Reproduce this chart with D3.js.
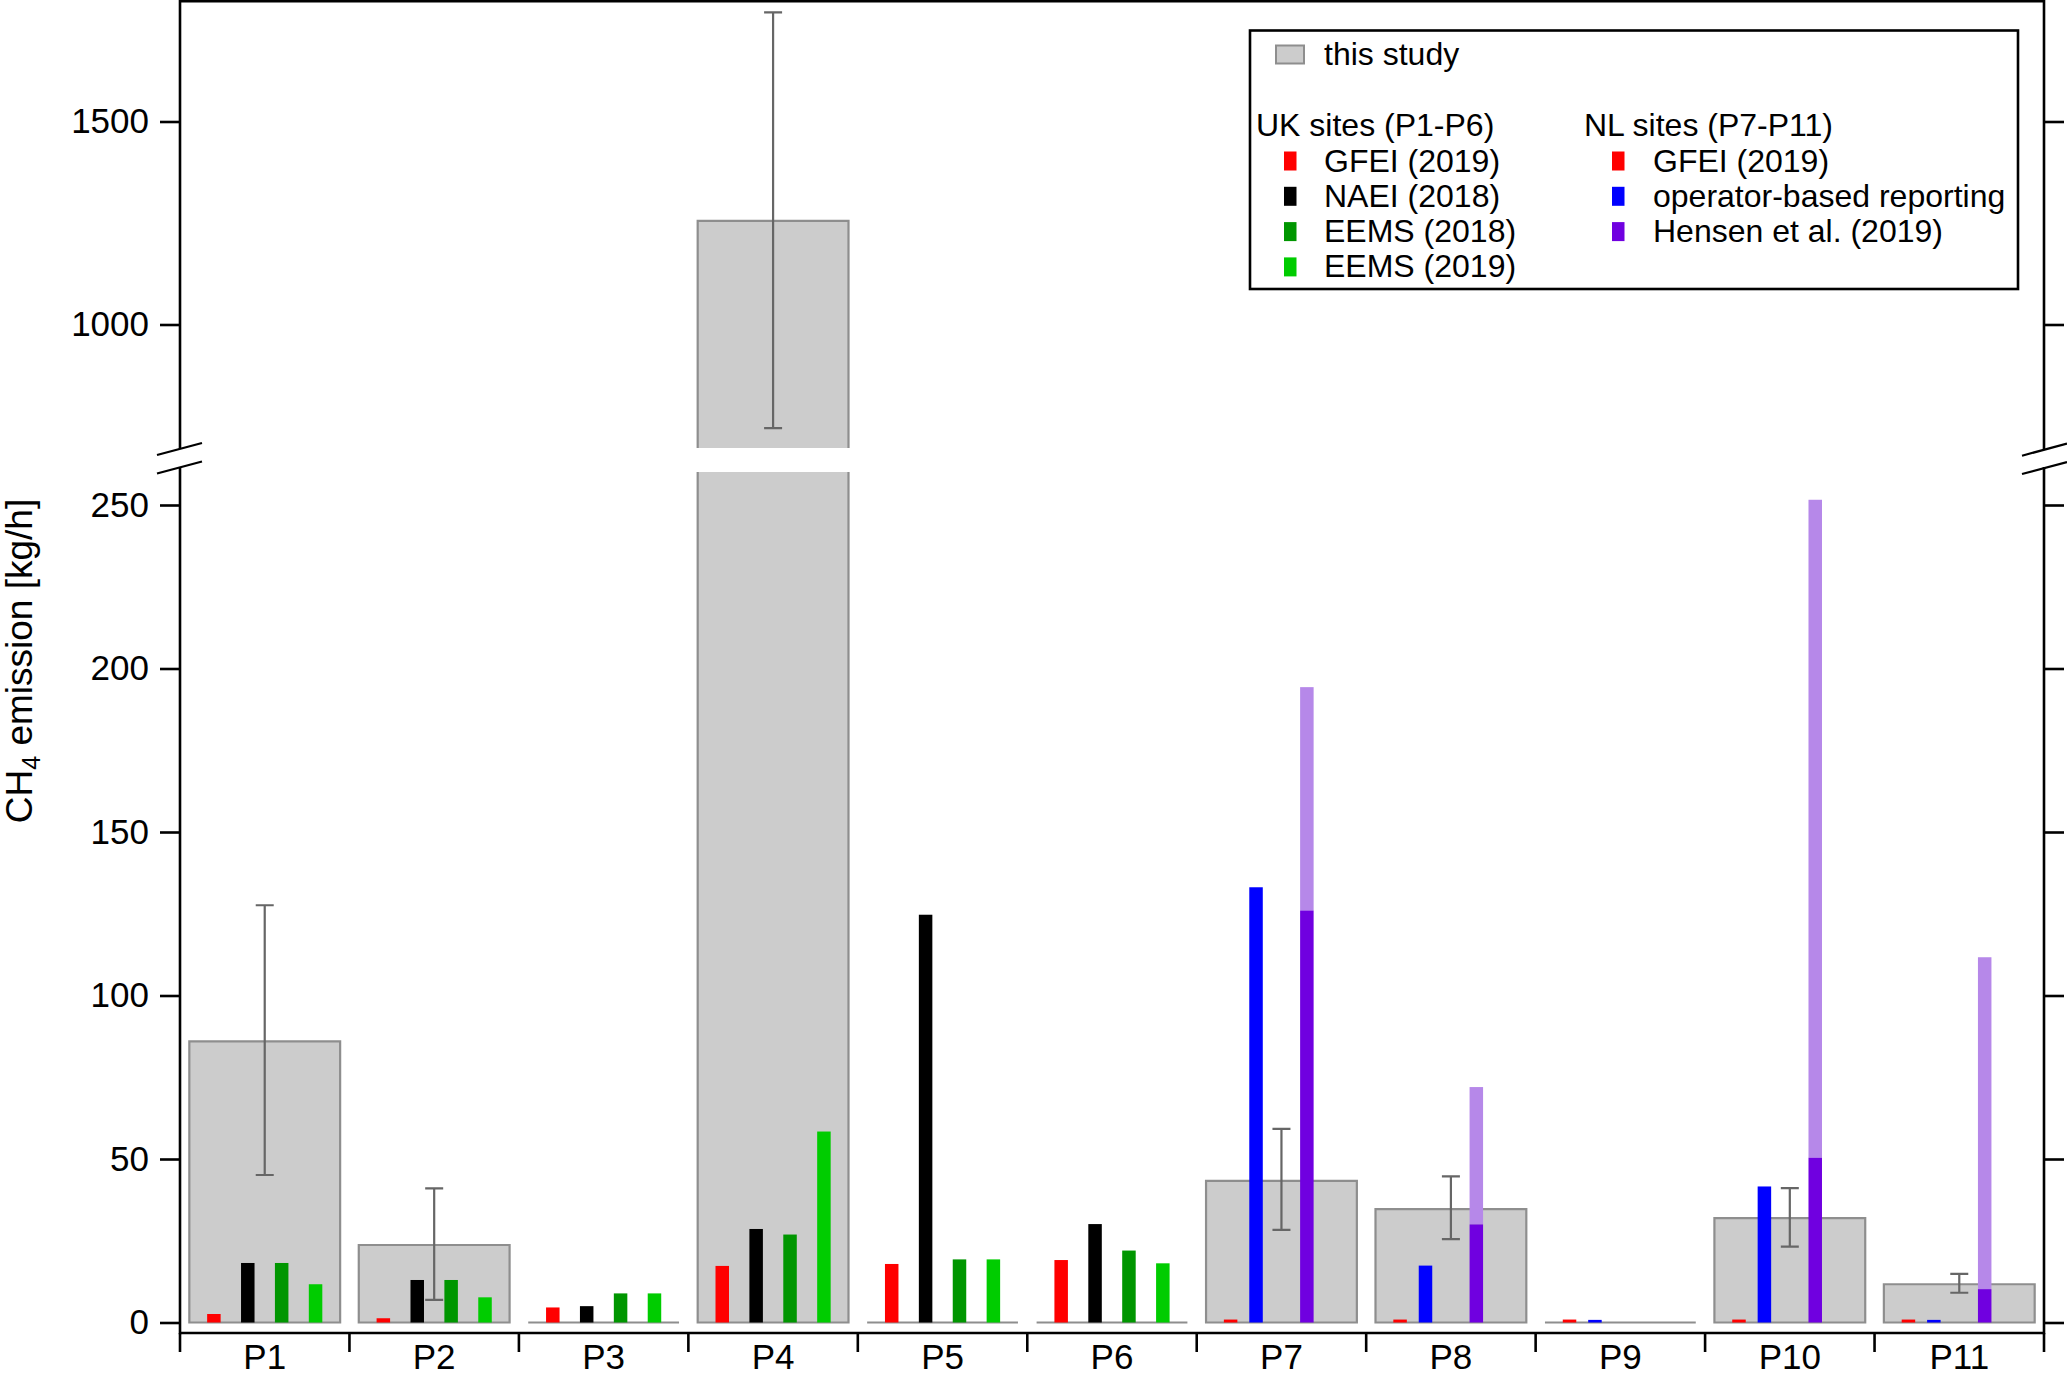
<!DOCTYPE html>
<html><head><meta charset="utf-8">
<script src="https://cdn.jsdelivr.net/npm/d3@7"></script>
<style>
body{margin:0;background:#fff}
text{font-family:"Liberation Sans",Arial,Helvetica,sans-serif;fill:#000}
</style>
</head><body>
<svg id="chart" width="2067" height="1377"></svg>
<script>
// ---------- data (kg/h) ----------
const categories = ["P1","P2","P3","P4","P5","P6","P7","P8","P9","P10","P11"];
const thisStudy   = [86.0, 23.7, 0, 1255, 0, 0, 43.3, 34.7, 0, 31.9, 11.7];
const errLow      = [45.1, 6.9, null, 745, null, null, 28.3, 25.5, null, 23.2, 9.1];
const errHigh     = [127.6, 41.0, null, 1769, null, null, 59.2, 44.7, null, 41.1, 14.9];
// UK sites P1-P6
const ukSites     = ["P1","P2","P3","P4","P5","P6"];
const ukGFEI      = [2.6, 1.3, 4.6, 17.3, 17.9, 19.1];
const ukNAEI      = [18.2, 13.0, 5.0, 28.6, 124.7, 30.1];
const ukEEMS2018  = [18.2, 13.0, 8.9, 26.9, 19.3, 22.0];
const ukEEMS2019  = [11.7, 7.7, 8.9, 58.4, 19.3, 18.1];
// NL sites P7-P11
const nlSites     = ["P7","P8","P9","P10","P11"];
const nlGFEI      = [0.9, 0.9, 0.9, 0.9, 0.9];
const nlOperator  = [133.1, 17.4, 0.8, 41.6, 0.8];
const nlHensenLow = [126.0, 30.0, null, 50.4, 10.2];
const nlHensenHigh= [194.3, 72.0, null, 251.6, 111.7];
const lowerTicks  = [0, 50, 100, 150, 200, 250];
const upperTicks  = [1000, 1500];
const ukLegend    = ["GFEI (2019)", "NAEI (2018)", "EEMS (2018)", "EEMS (2019)"];
const nlLegend    = ["GFEI (2019)", "operator-based reporting", "Hensen et al. (2019)"];

// ---------- styles ----------
const C = {
  red:"#ff0000", black:"#000000", dgreen:"#009600", lgreen:"#00cc00",
  blue:"#0000ff", purple:"#7000e0", lpurple:"#b688e9",
  gray:"#cccccc", grayStroke:"#8e8e8e", err:"#666666"
};
const ukColors = [C.red, C.black, C.dgreen, C.lgreen];
const nlColors = [C.red, C.blue, C.purple];

const svg = d3.select("#chart");
const left = 180, right = 2044, axisY = 1333;
const x = d3.scaleBand().domain(categories).range([left, right]).padding(0);
const bw = x.bandwidth();
const cx = c => x(c) + bw / 2;
const yLow = d3.scaleLinear().domain([0, 250]).range([1322.5, 505]);
const yUp  = d3.scaleLinear().domain([1000, 1500]).range([324.5, 121.5]);
const grayW = bw * 0.89, smallW = 13.5;
const ukOff = [-0.3, -0.1, 0.1, 0.3];
const nlOff = [-0.3, -0.15, 0.15];

const defs = svg.append("defs");
defs.append("clipPath").attr("id","clipUp").append("rect")
  .attr("x", left).attr("y", 0).attr("width", right-left).attr("height", 448);
defs.append("clipPath").attr("id","clipLow").append("rect")
  .attr("x", left).attr("y", 472).attr("width", right-left).attr("height", axisY-472);

function panel(y, clip) {
  const g = svg.append("g").attr("clip-path", `url(#${clip})`);
  // this study bars
  g.selectAll("path.gray").data(categories).join("path")
    .attr("class","gray")
    .attr("d", (c,i) => {
      const x0 = cx(c) - grayW/2, y0 = y(0), y1 = y(thisStudy[i]);
      return `M${x0},${y0}V${y1}H${x0+grayW}V${y0}Z`;
    })
    .attr("fill", C.gray).attr("stroke", C.grayStroke).attr("stroke-width", 2.2);
  // UK inventory bars
  const ukSeries = [ukGFEI, ukNAEI, ukEEMS2018, ukEEMS2019];
  ukSeries.forEach((vals, k) => {
    g.selectAll(null).data(ukSites).join("rect")
      .attr("x", c => cx(c) + ukOff[k]*bw - smallW/2)
      .attr("width", smallW)
      .attr("y", (c,i) => y(vals[i]))
      .attr("height", (c,i) => y(0) - y(vals[i]))
      .attr("fill", ukColors[k]);
  });
  // NL bars
  [nlGFEI, nlOperator].forEach((vals, k) => {
    g.selectAll(null).data(nlSites).join("rect")
      .attr("x", c => cx(c) + nlOff[k]*bw - smallW/2)
      .attr("width", smallW)
      .attr("y", (c,i) => y(vals[i]))
      .attr("height", (c,i) => y(0) - y(vals[i]))
      .attr("fill", nlColors[k]);
  });
  const hens = nlSites.map((c,i) => ({c, lo: nlHensenLow[i], hi: nlHensenHigh[i]})).filter(d => d.lo !== null);
  g.selectAll(null).data(hens).join("rect")
    .attr("x", d => cx(d.c) + nlOff[2]*bw - smallW/2).attr("width", smallW)
    .attr("y", d => y(d.hi)).attr("height", d => y(d.lo) - y(d.hi))
    .attr("fill", C.lpurple);
  g.selectAll(null).data(hens).join("rect")
    .attr("x", d => cx(d.c) + nlOff[2]*bw - smallW/2).attr("width", smallW)
    .attr("y", d => y(d.lo)).attr("height", d => y(0) - y(d.lo))
    .attr("fill", C.purple);
  // error bars
  const eb = categories.map((c,i) => ({c, lo: errLow[i], hi: errHigh[i]})).filter(d => d.lo !== null);
  const capW = 18;
  g.selectAll(null).data(eb).join("path")
    .attr("d", d => {
      const xc = cx(d.c), a = y(d.lo), b = y(d.hi);
      return `M${xc},${a}V${b}M${xc-capW/2},${a}H${xc+capW/2}M${xc-capW/2},${b}H${xc+capW/2}`;
    })
    .attr("fill","none").attr("stroke", C.err).attr("stroke-width", 2.2);
}
panel(yUp, "clipUp");
panel(yLow, "clipLow");

// ---------- axes ----------
const lw = 2.6;
const frame = svg.append("g").attr("stroke","#000").attr("stroke-width", lw).attr("fill","none");
frame.append("line").attr("x1", left).attr("x2", right).attr("y1", 1.3).attr("y2", 1.3);
frame.append("line").attr("x1", left).attr("x2", right).attr("y1", axisY).attr("y2", axisY);
[left, right].forEach(xx => {
  frame.append("line").attr("x1", xx).attr("x2", xx).attr("y1", 0).attr("y2", 449);
  frame.append("line").attr("x1", xx).attr("x2", xx).attr("y1", 467).attr("y2", axisY + lw/2);
});
// break marks
const brk = svg.append("g").attr("stroke","#000").attr("stroke-width", 2.2);
[[157,455,202,443],[157,473.5,202,461.5],[2022,455.7,2067,443.5],[2022,474,2067,462]].forEach(p =>
  brk.append("line").attr("x1",p[0]).attr("y1",p[1]).attr("x2",p[2]).attr("y2",p[3]));

function styleAxis(g, fs) {
  g.select(".domain").remove();
  g.selectAll(".tick line").attr("stroke","#000").attr("stroke-width", lw);
  g.selectAll(".tick text").attr("font-size", fs).attr("fill","#000")
   .attr("font-family", '"Liberation Sans",Arial,sans-serif');
}
[[yLow, lowerTicks],[yUp, upperTicks]].forEach(([s, tv]) => {
  const gl = svg.append("g").attr("transform", `translate(${left},0)`)
    .call(d3.axisLeft(s).tickValues(tv).tickSize(20).tickPadding(11).tickSizeOuter(0).tickFormat(d3.format("d")));
  styleAxis(gl, 35);
  const gr = svg.append("g").attr("transform", `translate(${right},0)`)
    .call(d3.axisRight(s).tickValues(tv).tickSize(20).tickFormat("").tickSizeOuter(0));
  styleAxis(gr, 35);
});
// x axis: separators at category boundaries, labels at centres
const bounds = categories.map(c => x(c)).concat([right]);
svg.append("g").selectAll("line").data(bounds).join("line")
  .attr("x1", d => d).attr("x2", d => d).attr("y1", axisY).attr("y2", 1352)
  .attr("stroke","#000").attr("stroke-width", lw);
svg.append("g").selectAll("text").data(categories).join("text")
  .attr("x", c => cx(c)).attr("y", 1369).attr("text-anchor","middle")
  .attr("font-size", 35).text(c => c);

// y title
const yt = svg.append("text").attr("transform","translate(32,661) rotate(-90)")
  .attr("text-anchor","middle").attr("font-size", 37);
yt.append("tspan").text("CH");
yt.append("tspan").attr("font-size", 25).attr("dy", 8).text("4");
yt.append("tspan").attr("dy", -8).text(" emission [kg/h]");

// ---------- legend ----------
const lg = svg.append("g");
lg.append("rect").attr("x",1250).attr("y",30.5).attr("width",768).attr("height",258.5)
  .attr("fill","#fff").attr("stroke","#000").attr("stroke-width", 2.6);
lg.append("rect").attr("x",1276).attr("y",45.5).attr("width",28).attr("height",18)
  .attr("fill",C.gray).attr("stroke",C.grayStroke).attr("stroke-width",2);
const lfs = 32;
lg.append("text").attr("x",1324).attr("y",65).attr("font-size",lfs).text("this study");
lg.append("text").attr("x",1256).attr("y",136).attr("font-size",lfs).text("UK sites (P1-P6)");
lg.append("text").attr("x",1584).attr("y",136).attr("font-size",lfs).text("NL sites (P7-P11)");
const rowY = i => 171.5 + i*35.3;
ukLegend.forEach((t,i) => {
  lg.append("rect").attr("x",1284).attr("y",rowY(i)-20).attr("width",12.5).attr("height",19).attr("fill",ukColors[i]);
  lg.append("text").attr("x",1324).attr("y",rowY(i)).attr("font-size",lfs).text(t);
});
nlLegend.forEach((t,i) => {
  lg.append("rect").attr("x",1612).attr("y",rowY(i)-20).attr("width",12.5).attr("height",19).attr("fill",nlColors[i]);
  lg.append("text").attr("x",1653).attr("y",rowY(i)).attr("font-size",lfs).text(t);
});
</script>
</body></html>
